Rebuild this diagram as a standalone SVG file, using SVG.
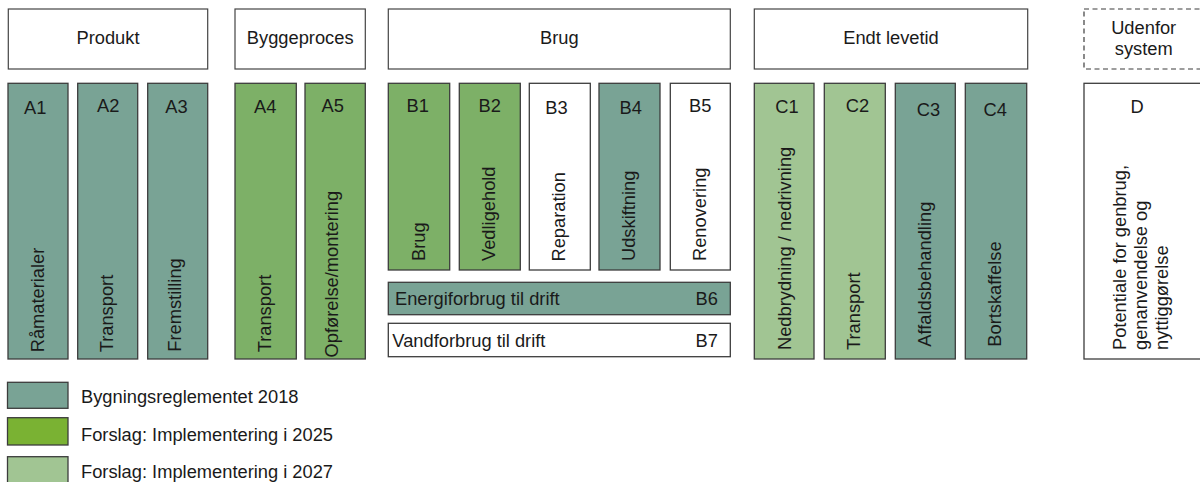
<svg xmlns="http://www.w3.org/2000/svg" width="1200" height="482" viewBox="0 0 1200 482">
<style>
  text { font-family: "Liberation Sans", Arial, sans-serif; font-size: 18.3px; fill: #1a1a1a; }
  .m { text-anchor: middle; }
  .box { stroke: #3c3c3c; stroke-width: 1.3; }
  .hdr { fill: #ffffff; stroke: #444444; stroke-width: 1.2; }
  .dash { fill: #ffffff; stroke: #3c3c3c; stroke-width: 1.2; stroke-dasharray: 5 3.5; }
  .teal { fill: #79a395; }
  .green { fill: #7db067; }
  .lgreen { fill: #a1c593; }
  .bright { fill: #7ab233; }
  .white { fill: #ffffff; }
</style>

<g id="headers">
  <g id="h-produkt"><rect class="hdr" x="8.3" y="9" width="199.4" height="60"/><text class="m" x="108" y="44.3">Produkt</text></g>
  <g id="h-byggeproces"><rect class="hdr" x="235" y="9" width="130.3" height="60"/><text class="m" x="300.2" y="44.3">Byggeproces</text></g>
  <g id="h-brug"><rect class="hdr" x="388.3" y="9" width="342" height="60"/><text class="m" x="559.3" y="44.3">Brug</text></g>
  <g id="h-endt"><rect class="hdr" x="754.3" y="9" width="273.4" height="60"/><text class="m" x="891" y="44.3">Endt levetid</text></g>
  <g id="h-udenfor"><rect class="dash" x="1084" y="9" width="118" height="60"/><text class="m" x="1143.7" y="34">Udenfor</text><text class="m" x="1143.7" y="54.5">system</text></g>
</g>

<g id="connectors"></g>

<g id="A1"><rect class="box teal" x="8" y="83.3" width="60" height="275.7"/><text class="m" x="35.3" y="114">A1</text><text transform="translate(43.7,352.3) rotate(-90)">Råmaterialer</text></g>
<g id="A2"><rect class="box teal" x="77.7" y="83.3" width="60" height="275.7"/><text class="m" x="108.3" y="112.3">A2</text><text transform="translate(112.9,352.3) rotate(-90)">Transport</text></g>
<g id="A3"><rect class="box teal" x="147.7" y="83.3" width="60" height="275.7"/><text class="m" x="176.5" y="113.3">A3</text><text transform="translate(181.2,351.7) rotate(-90)">Fremstilling</text></g>
<g id="A4"><rect class="box green" x="235" y="83.3" width="61.3" height="275.7"/><text class="m" x="265.2" y="113.3">A4</text><text transform="translate(271.2,352.3) rotate(-90)">Transport</text></g>
<g id="A5"><rect class="box green" x="305" y="83.3" width="60.3" height="275.7"/><text class="m" x="332.8" y="112.3">A5</text><text transform="translate(338.2,357.5) rotate(-90)">Opførelse/montering</text></g>

<g id="B1"><rect class="box green" x="388.3" y="83.3" width="61.4" height="186.7"/><text class="m" x="417.7" y="112.3">B1</text><text transform="translate(424.6,261) rotate(-90)">Brug</text></g>
<g id="B2"><rect class="box green" x="459.3" y="83.3" width="61" height="186.7"/><text class="m" x="489.8" y="112.3">B2</text><text transform="translate(494.5,261) rotate(-90)">Vedligehold</text></g>
<g id="B3"><rect class="box white" x="529.3" y="83.3" width="61" height="186.7"/><text class="m" x="556.5" y="114">B3</text><text transform="translate(565.2,261.5) rotate(-90)">Reparation</text></g>
<g id="B4"><rect class="box teal" x="599" y="83.3" width="61" height="186.7"/><text class="m" x="630.8" y="114">B4</text><text transform="translate(634.6,261) rotate(-90)">Udskiftning</text></g>
<g id="B5"><rect class="box white" x="670.3" y="83.3" width="60" height="186.7"/><text class="m" x="700.2" y="112.3">B5</text><text transform="translate(706.2,261) rotate(-90)">Renovering</text></g>
<g id="B6"><rect class="box teal" x="388.3" y="282.3" width="342" height="32.4"/><text x="395" y="304.5">Energiforbrug til drift</text><text x="695.5" y="304.5">B6</text></g>
<g id="B7"><rect class="box white" x="388.3" y="323.3" width="342" height="33.4"/><text x="392.3" y="346.5">Vandforbrug til drift</text><text x="695.5" y="346.5">B7</text></g>

<g id="C1"><rect class="box lgreen" x="754.3" y="83.3" width="59.7" height="275.7"/><text class="m" x="787" y="113.3">C1</text><text transform="translate(790.6,350) rotate(-90)">Nedbrydning / nedrivning</text></g>
<g id="C2"><rect class="box lgreen" x="824.3" y="83.3" width="61" height="275.7"/><text class="m" x="857.5" y="112.3">C2</text><text transform="translate(860.2,350) rotate(-90)">Transport</text></g>
<g id="C3"><rect class="box teal" x="895.3" y="83.3" width="60" height="275.7"/><text class="m" x="928.5" y="115.7">C3</text><text transform="translate(931.2,346.7) rotate(-90)">Affaldsbehandling</text></g>
<g id="C4"><rect class="box teal" x="965.3" y="83.3" width="61.4" height="275.7"/><text class="m" x="995.2" y="115.7">C4</text><text transform="translate(1000.6,346.7) rotate(-90)">Bortskaffelse</text></g>

<g id="D"><rect class="box white" x="1084" y="83.3" width="118" height="275.7"/><text class="m" x="1137" y="113.3">D</text>
  <text transform="translate(1126.2,350) rotate(-90)">Potentiale for genbrug,</text>
  <text transform="translate(1147.2,350) rotate(-90)">genanvendelse og</text>
  <text transform="translate(1168.2,350) rotate(-90)">nyttiggørelse</text>
</g>

<g id="legend">
  <g id="leg-2018"><rect class="box teal" x="7.5" y="382.3" width="60.5" height="26"/><text x="81" y="403.3">Bygningsreglementet 2018</text></g>
  <g id="leg-2025"><rect class="box bright" x="7.5" y="417.7" width="60.5" height="27.3"/><text x="81" y="441">Forslag: Implementering i 2025</text></g>
  <g id="leg-2027"><rect class="box lgreen" x="7.5" y="456.7" width="60.5" height="28"/><text x="81" y="478.4">Forslag: Implementering i 2027</text></g>
</g>
</svg>
